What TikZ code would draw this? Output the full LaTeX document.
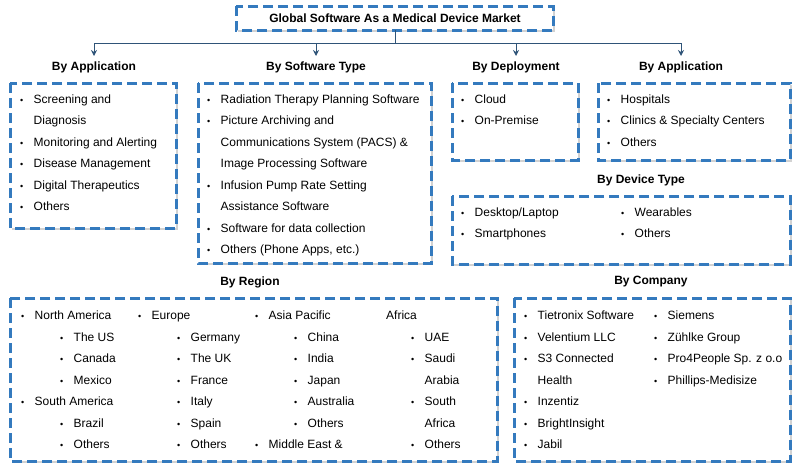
\documentclass[tikz,border=0pt]{standalone}
\usepackage{fontspec}
\setmainfont{Liberation Sans}
\usepackage{tikz}
\usetikzlibrary{shadows,arrows.meta}
\definecolor{boxblue}{RGB}{52,122,190}
\definecolor{linkblue}{RGB}{47,84,120}
\tikzset{
  dashbox/.style={draw=boxblue, line width=3pt, dash pattern=on 10pt off 5pt, fill=white,
    drop shadow={shadow xshift=1.5pt, shadow yshift=-1.5pt, fill=black!35}},
  head/.style={font=\fontsize{12}{14}\selectfont\bfseries},
  entry/.style={anchor=west, inner sep=0pt, yshift=-1pt, text height=8.6pt, text depth=2.6pt, font=\fontsize{12}{14}\selectfont},
  link/.style={draw=linkblue, line width=1pt},
}
% bullet with text: x of bullet, y, name, text
\newcommand{\bl}[4]{%
  \node[entry, font=\fontsize{9}{11}\selectfont] at (#1-1,#2) {\textbullet};
  \node[entry] (#3) at (#1+12.5,#2) {#4};}
\begin{document}
\begin{tikzpicture}[x=1pt,y=-1pt]
            \useasboundingbox (0,0) rectangle (800,469);

            % boxes
            \draw[dashbox] (236,6) rectangle (553,30);
            \node[head] (title) at (395,18) {Global Software As a Medical Device Market};
            \draw[dashbox] (10,83) rectangle (176,228);
            \draw[dashbox] (198,83) rectangle (431,263);
            \draw[dashbox] (452,83) rectangle (578,160);
            \draw[dashbox] (598,83) rectangle (790,160);
            \draw[dashbox] (452,196) rectangle (790,264);
            \draw[dashbox] (10,298) rectangle (497,461);
            \draw[dashbox] (514,298) rectangle (790,461);

            % headings
            \node[head] (happ) at (94,67) {By Application};
            \node[head] (htype) at (316,67) {By Software Type};
            \node[head] (hdep) at (516,67) {By Deployment};
            \node[head] (hend) at (681,67) {By Application};
            \node[head] (hdev) at (641,180) {By Device Type};
            \node[head] (hreg) at (250,282) {By Region};
            \node[head] (hcomp) at (651,282) {By Company};

            % tree
            \coordinate (bus) at (395,43);
            \draw[link] (395,30) -- (bus);
            \draw[link] (94,43) -- (681,43);
            \foreach \xx in {94,316,516,681}
                \draw[link, -{Stealth[length=6pt,width=6pt]}] (\xx,43) -- (\xx,56);

            % by application
            \bl{21}{99}{a1}{Screening and}
            \node[entry] (a1b) at (33.5,120) {Diagnosis};
            \bl{21}{142}{a2}{Monitoring and Alerting}
            \bl{21}{163}{a3}{Disease Management}
            \bl{21}{185}{a4}{Digital Therapeutics}
            \bl{21}{206}{a5}{Others}

            % by software type
            \bl{208}{99}{s1}{Radiation Therapy Planning Software}
            \bl{208}{120}{s2}{Picture Archiving and}
            \node[entry] (s2b) at (220.5,142) {Communications System (PACS) \&};
            \node[entry] (s2c) at (220.5,163) {Image Processing Software};
            \bl{208}{185}{s3}{Infusion Pump Rate Setting}
            \node[entry] (s3b) at (220.5,206) {Assistance Software};
            \bl{208}{228}{s4}{Software for data collection}
            \bl{208}{249}{s5}{Others (Phone Apps, etc.)}

            % deployment, end use
            \bl{462}{99}{d1}{Cloud}
            \bl{462}{120}{d2}{On-Premise}
            \bl{608}{99}{e1}{Hospitals}
            \bl{608}{120}{e2}{Clinics \& Specialty Centers}
            \bl{608}{142}{e3}{Others}

            % device type
            \bl{462}{212}{v1}{Desktop/Laptop}
            \bl{462}{233}{v2}{Smartphones}
            \bl{622}{212}{v3}{Wearables}
            \bl{622}{233}{v4}{Others}

            % region
            \bl{22}{315}{r1}{North America}
            \bl{61}{337}{r2}{The US}
            \bl{61}{358}{r3}{Canada}
            \bl{61}{380}{r4}{Mexico}
            \bl{22}{401}{r5}{South America}
            \bl{61}{423}{r6}{Brazil}
            \bl{61}{444}{r7}{Others}
            \bl{139}{315}{r8}{Europe}
            \bl{178}{337}{r9}{Germany}
            \bl{178}{358}{r10}{The UK}
            \bl{178}{380}{r11}{France}
            \bl{178}{401}{r12}{Italy}
            \bl{178}{423}{r13}{Spain}
            \bl{178}{444}{r14}{Others}
            \bl{256}{315}{r15}{Asia Pacific}
            \bl{295}{337}{r16}{China}
            \bl{295}{358}{r17}{India}
            \bl{295}{380}{r18}{Japan}
            \bl{295}{401}{r19}{Australia}
            \bl{295}{423}{r20}{Others}
            \bl{256}{444}{r21}{Middle East \&}
            \node[entry] (r22) at (386,315) {Africa};
            \bl{412}{337}{r23}{UAE}
            \bl{412}{358}{r24}{Saudi}
            \node[entry] (r24b) at (424.5,380) {Arabia};
            \bl{412}{401}{r25}{South}
            \node[entry] (r25b) at (424.5,423) {Africa};
            \bl{412}{444}{r26}{Others}

            % company
            \bl{525}{315}{c1}{Tietronix Software}
            \bl{525}{337}{c2}{Velentium LLC}
            \bl{525}{358}{c3}{S3 Connected}
            \node[entry] (c3b) at (537.5,380) {Health};
            \bl{525}{401}{c4}{Inzentiz}
            \bl{525}{423}{c5}{BrightInsight}
            \bl{525}{444}{c6}{Jabil}
            \bl{655}{315}{c7}{Siemens}
            \bl{655}{337}{c8}{Zühlke Group}
            \bl{655}{358}{c9}{Pro4People Sp. z o.o}
            \bl{655}{380}{c10}{Phillips-Medisize}
        \end{tikzpicture}
\end{document}
